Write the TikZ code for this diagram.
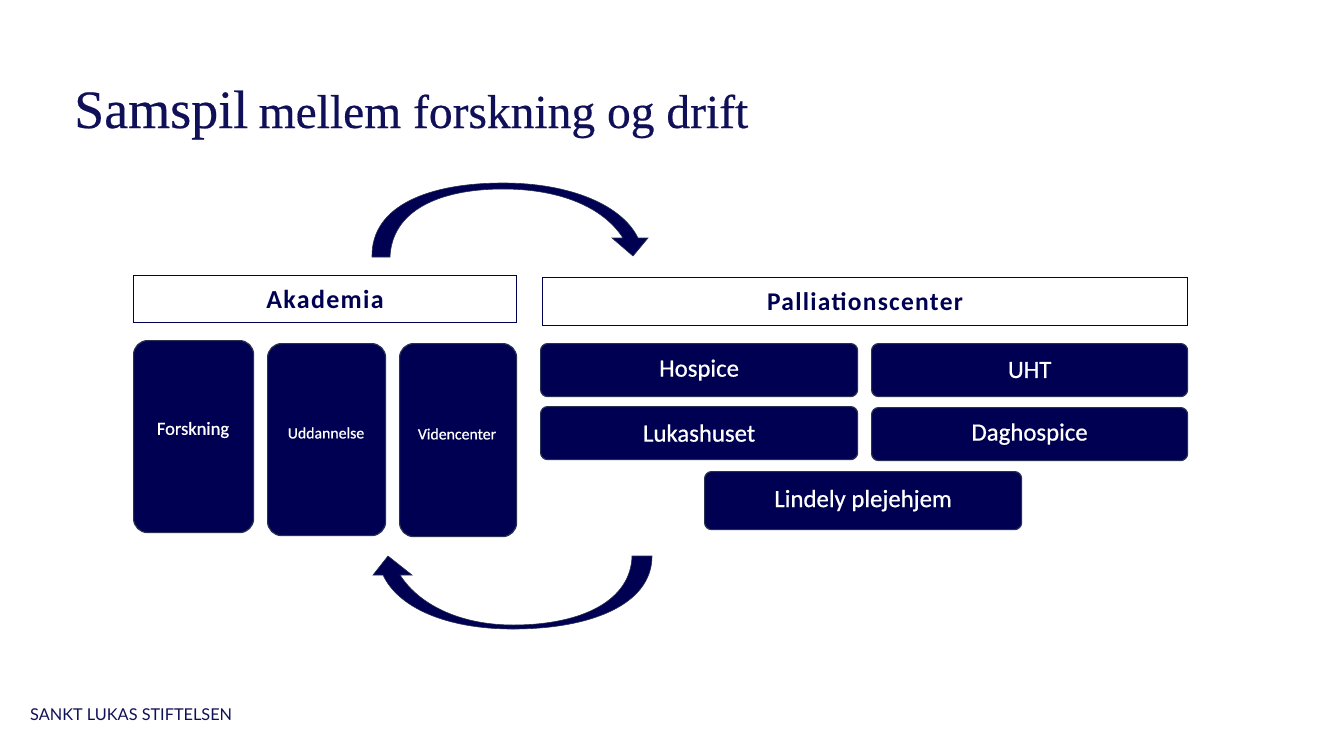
\documentclass[tikz,border=0pt]{standalone}
\usepackage{fontspec}
\setmainfont[FakeBold=0.4]{Liberation Serif}
\newfontfamily\boxfont[FakeBold=0.6]{Carlito}
\newfontfamily\boxfontsp[LetterSpace=5]{Carlito}
\newfontfamily\footfont{Lato}
\definecolor{navy}{RGB}{0,0,82}
\definecolor{titlenavy}{RGB}{16,16,88}
\definecolor{edgenavy}{RGB}{40,50,80}
\begin{document}
\begin{tikzpicture}[x=1pt,y=-1pt,
  headbox/.style={draw=navy,line width=1pt,fill=white,text=navy,inner sep=0pt},
  tallbox/.style={draw=edgenavy,line width=1.2pt,fill=navy,text=white,rounded corners=14pt,inner sep=0pt},
  widebox/.style={draw=edgenavy,line width=1.2pt,fill=navy,text=white,rounded corners=7pt,inner sep=0pt},
  bigarrow/.style={fill=navy,draw=edgenavy,line width=0.6pt,line join=miter}]
\useasboundingbox (0,0) rectangle (1333,750);
\fill[white] (0,0) rectangle (1333,750);

% title
\node[anchor=base west,inner sep=0pt,text=titlenavy] (title) at (74,128)
  {\fontsize{54}{60}\selectfont Samspil\hspace{-3pt} \fontsize{47.5}{52}\selectfont mellem forskning og drift};

% header boxes
\node[headbox,minimum width=383pt,minimum height=47pt,anchor=north west] (akad) at (133,275)
  {\boxfontsp\bfseries\fontsize{26}{28}\selectfont Akademia};
\node[headbox,minimum width=645pt,minimum height=48pt,anchor=north west] (pall) at (542,277)
  {\boxfontsp\bfseries\fontsize{25.5}{28}\selectfont Palliationscenter};

% left column boxes
\node[tallbox,minimum width=120pt,minimum height=192pt,anchor=north west] (forsk) at (133,340) {};
\node[text=white,inner sep=0pt] at (193,430) {\boxfont\fontsize{18.5}{20}\selectfont Forskning};
\node[tallbox,minimum width=118pt,minimum height=192pt,anchor=north west] (udd) at (267,343) {};
\node[text=white,inner sep=0pt] at (326,433) {\boxfont\fontsize{15.8}{18}\selectfont Uddannelse};
\node[tallbox,minimum width=117pt,minimum height=193pt,anchor=north west] (viden) at (399,343) {};
\node[text=white,inner sep=0pt] at (457,434) {\boxfont\fontsize{15.8}{18}\selectfont Videncenter};

% right boxes
\node[widebox,minimum width=317pt,minimum height=53pt,anchor=north west] (hosp) at (540,343)
  {\boxfont\fontsize{24.8}{27}\selectfont Hospice};
\node[widebox,minimum width=316pt,minimum height=53pt,anchor=north west] (uht) at (871,343)
  {\boxfont\fontsize{24.8}{27}\selectfont UHT};
\node[widebox,minimum width=317pt,minimum height=53pt,anchor=north west] (lukas) at (540,406)
  {\boxfont\fontsize{24.8}{27}\selectfont Lukashuset};
\node[widebox,minimum width=316pt,minimum height=53pt,anchor=north west] (dag) at (871,407)
  {\boxfont\fontsize{24.8}{27}\selectfont Daghospice};
\node[widebox,minimum width=317pt,minimum height=58pt,anchor=north west] (lind) at (704,471)
  {\boxfont\fontsize{24.8}{27}\selectfont Lindely plejehjem};

% top curved arrow (Akademia -> Palliationscenter)
\coordinate (ta1) at (372,257);
\coordinate (ta2) at (390,257);
\coordinate (tip1) at (633,256);
\draw[bigarrow] (ta1) .. controls (371,205) and (430,183) .. (503,183)
  .. controls (570,183) and (622,205) .. (638,238)
  -- (648,238) -- (tip1) -- (612,238) -- (623,238)
  .. controls (603,207) and (560,189) .. (503,189)
  .. controls (440,189) and (392,210) .. (ta2) -- cycle;

% bottom curved arrow (Palliationscenter -> Akademia)
\coordinate (ba1) at (652,556);
\coordinate (ba2) at (632,556);
\coordinate (tip2) at (388,556);
\draw[bigarrow] (ba1) .. controls (652,605) and (590,629) .. (513,629)
  .. controls (445,629) and (398,607) .. (383,575)
  -- (373,575) -- (tip2) -- (412,575) -- (400,575)
  .. controls (420,606) and (462,625) .. (513,625)
  .. controls (583,625) and (631,600) .. (ba2) -- cycle;

% footer
\node[anchor=base west,inner sep=0pt,text=titlenavy] (foot) at (30,720)
  {\footfont\fontsize{16.3}{18}\selectfont SANKT LUKAS STIFTELSEN};
\end{tikzpicture}
\end{document}
